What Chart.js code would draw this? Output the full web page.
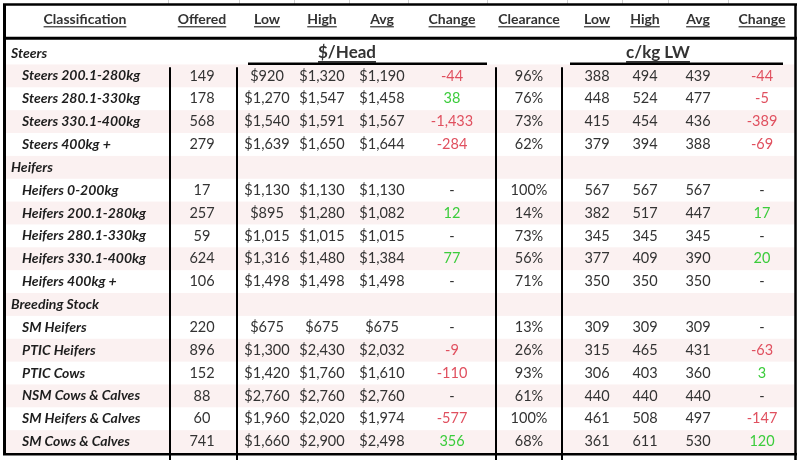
<!DOCTYPE html>
<html>
<head>
<meta charset="utf-8">
<script src="https://cdn.jsdelivr.net/npm/chart.js@4.4.1/dist/chart.umd.min.js"></script>
<style>
  html, body { margin: 0; padding: 0; background: #fff; }
  #wrap { width: 800px; height: 460px; }
</style>
</head>
<body>
<div id="wrap"><canvas id="myChart" width="800" height="460"></canvas></div>
<script>
// table data
const headers = ["Classification", "Offered", "Low", "High", "Avg", "Change", "Clearance", "Low", "High", "Avg", "Change"];
const classes = [
  "Steers", "Steers 200.1-280kg", "Steers 280.1-330kg", "Steers 330.1-400kg", "Steers 400kg +",
  "Heifers", "Heifers 0-200kg", "Heifers 200.1-280kg", "Heifers 280.1-330kg", "Heifers 330.1-400kg", "Heifers 400kg +",
  "Breeding Stock", "SM Heifers", "PTIC Heifers", "PTIC Cows", "NSM Cows & Calves", "SM Heifers & Calves", "SM Cows & Calves"
];
const groupRows = [0, 5, 11];
const offered = [null, 149, 178, 568, 279, null, 17, 257, 59, 624, 106, null, 220, 896, 152, 88, 60, 741];
const lowHead = [null, 920, 1270, 1540, 1639, null, 1130, 895, 1015, 1316, 1498, null, 675, 1300, 1420, 2760, 1960, 1660];
const highHead = [null, 1320, 1547, 1591, 1650, null, 1130, 1280, 1015, 1480, 1498, null, 675, 2430, 1760, 2760, 2020, 2900];
const avgHead = [null, 1190, 1458, 1567, 1644, null, 1130, 1082, 1015, 1384, 1498, null, 675, 2032, 1610, 2760, 1974, 2498];
const changeHead = [null, -44, 38, -1433, -284, null, null, 12, null, 77, null, null, null, -9, -110, null, -577, 356];
const clearance = [null, 96, 76, 73, 62, null, 100, 14, 73, 56, 71, null, 13, 26, 93, 61, 100, 68];
const lowKg = [null, 388, 448, 415, 379, null, 567, 382, 345, 377, 350, null, 309, 315, 306, 440, 461, 361];
const highKg = [null, 494, 524, 454, 394, null, 567, 517, 345, 409, 350, null, 309, 465, 403, 440, 508, 611];
const avgKg = [null, 439, 477, 436, 388, null, 567, 447, 345, 390, 350, null, 309, 431, 360, 440, 497, 530];
const changeKg = [null, -44, -5, -389, -69, null, null, 17, null, 20, null, null, null, -63, 3, null, -147, 120];
const unitHead = "$/Head";
const unitKg = "c/kg LW";

// layout (x in scale units, rows by index)
const colX = [85, 202, 267, 322, 382, 452, 529, 597, 645, 698, 762];
const vLines = [170, 237, 496, 562];

function money(v) { return "$" + v.toLocaleString("en-US"); }
function num(v) { return v.toLocaleString("en-US"); }

const tablePlugin = {
  id: "tableDraw",
  beforeDraw(chart) {
    const ctx = chart.ctx;
    const X = (v) => chart.scales.x.getPixelForValue(v);
    const Y = (v) => chart.scales.y.getPixelForValue(v);

    ctx.save();
    ctx.fillStyle = "#ffffff";
    ctx.fillRect(0, 0, chart.width, chart.height);

    // row bands
    ctx.fillStyle = "#fbf1f1";
    classes.forEach((c, i) => {
      if (i % 2 === 1) {
        ctx.fillRect(X(5), Y(i - 0.5), X(795) - X(5), Y(i + 0.5) - Y(i - 0.5));
      }
    });

    // faint grid ticks above top border
    ctx.strokeStyle = "#cfcfcf";
    ctx.lineWidth = 1;
    [168, 239, 294, 349, 408, 487, 567, 622, 668, 728].forEach((x) => {
      ctx.beginPath();
      ctx.moveTo(X(x) + 0.5, Y(-2.32));
      ctx.lineTo(X(x) + 0.5, Y(-2.1));
      ctx.stroke();
    });

    function text(str, x, y, font, color, align, underline, ulGap, ulW) {
      ctx.font = font;
      ctx.fillStyle = color;
      ctx.textAlign = align;
      ctx.textBaseline = "middle";
      ctx.fillText(str, x, y);
      if (underline) {
        const w = ctx.measureText(str).width;
        const x0 = align === "center" ? x - w / 2 : x;
        ctx.fillRect(x0, y + (ulGap || 7), w, ulW || 1.2);
      }
    }

    const fam = "Lato, 'Open Sans', sans-serif";
    const fHead = "bold 14px " + fam;
    const fNum = "14.5px " + fam;
    const fCls = "bold italic 14px " + fam;
    const fUnit = "bold 17px " + fam;
    const dark = "#333333";

    // headers
    headers.forEach((h, j) => text(h, X(colX[j]), Y(-1.48), fHead, dark, "center", true));

    // unit captions
    text(unitHead, X(347), Y(0), fUnit, dark, "center", true, 8, 1.8);
    text(unitKg, X(658), Y(0), fUnit, dark, "center", true, 8, 1.8);

    const red = "#e0505f";
    const green = "#3ccc3c";
    function changeCell(v) {
      if (v === null) return ["-", dark];
      return [num(v), v < 0 ? red : green];
    }

    classes.forEach((c, i) => {
      const y = Y(i);
      if (groupRows.includes(i)) {
        text(c, X(11), y, fCls, "#1e1e1e", "left", false);
        return;
      }
      text(c, X(22), y, fCls, "#1e1e1e", "left", false);
      text(num(offered[i]), X(colX[1]), y, fNum, dark, "center");
      text(money(lowHead[i]), X(colX[2]), y, fNum, dark, "center");
      text(money(highHead[i]), X(colX[3]), y, fNum, dark, "center");
      text(money(avgHead[i]), X(colX[4]), y, fNum, dark, "center");
      let ch = changeCell(changeHead[i]);
      text(ch[0], X(colX[5]), y, fNum, ch[1], "center");
      text(clearance[i] + "%", X(colX[6]), y, fNum, dark, "center");
      text(num(lowKg[i]), X(colX[7]), y, fNum, dark, "center");
      text(num(highKg[i]), X(colX[8]), y, fNum, dark, "center");
      text(num(avgKg[i]), X(colX[9]), y, fNum, dark, "center");
      ch = changeCell(changeKg[i]);
      text(ch[0], X(colX[10]), y, fNum, ch[1], "center");
    });

    // borders
    ctx.strokeStyle = "#000000";
    function line(x0, y0, x1, y1, w) {
      ctx.lineWidth = w;
      ctx.beginPath();
      ctx.moveTo(x0, y0);
      ctx.lineTo(x1, y1);
      ctx.stroke();
    }
    const top = Y(-2.12), head = Y(-0.65), bottom = Y(17.55);
    line(X(3), top, X(797), top, 2.5);
    line(X(3), head, X(797), head, 3);
    line(X(3), bottom, X(797), bottom, 2.5);
    line(X(4.5), top, X(4.5), bottom, 3);
    line(X(795.5), top, X(795.5), Y(17.8), 2.5);
    vLines.forEach((x) => line(X(x), Y(0.62), X(x), Y(17.8), 2));
    // underlines below unit captions
    line(X(248), Y(0.47), X(487), Y(0.47), 2.5);
    line(X(570), Y(0.47), X(783), Y(0.47), 2.5);
    ctx.restore();
  }
};

new Chart(document.getElementById("myChart"), {
  type: "scatter",
  data: { datasets: [] },
  options: {
    responsive: false,
    animation: false,
    layout: { padding: 0 },
    plugins: { legend: { display: false }, tooltip: { enabled: false } },
    scales: {
      x: { type: "linear", min: 0, max: 800, display: false },
      y: { type: "linear", min: -53 / 22.86, max: 407 / 22.86, reverse: true, display: false }
    }
  },
  plugins: [tablePlugin]
});
</script>
</body>
</html>
